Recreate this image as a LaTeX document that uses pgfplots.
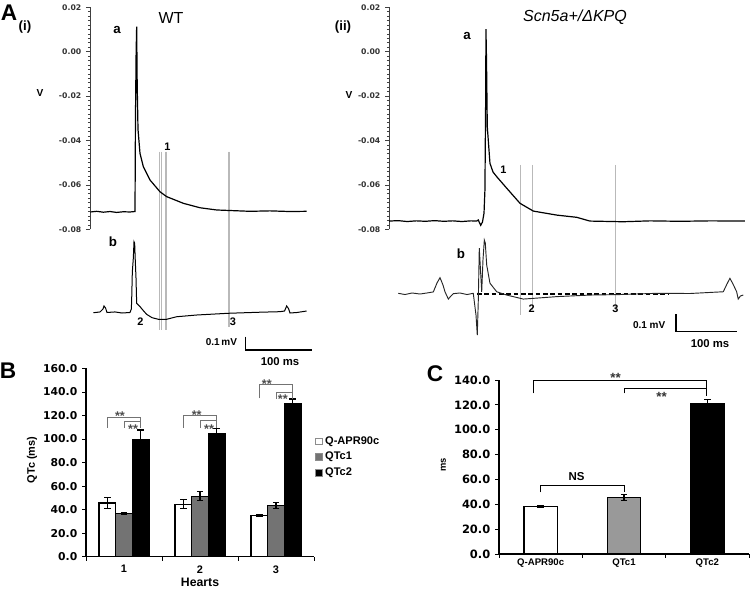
\documentclass[border=0pt]{standalone}
\usepackage{pgfplots}
\pgfplotsset{compat=1.18}
\usepackage{fontspec}
\setmainfont{Liberation Sans}
\newfontfamily\dv{DejaVu Sans}
\newcommand{\fs}[1]{\fontsize{#1}{#1}\selectfont}
\begin{document}
\begin{tikzpicture}[x=0.75pt,y=0.75pt]
\useasboundingbox (0,0) rectangle (750,592);
\pgfplotsset{
  trace top/.style={scale only axis, height=166.5pt, ymin=-0.08, ymax=0.02,
    axis x line=none, axis y line*=left, clip=false, scaled y ticks=false,
    ytick={-0.08,-0.06,-0.04,-0.02,0,0.02}, minor y tick num=9,
    tick align=outside, major tick length=3pt, minor tick length=1.6pt,
    every tick/.append style={black!75, line width=0.5pt},
    axis line style={black!75, line width=0.6pt},
    yticklabel style={font=\dv\bfseries\fs{5.8}, text=black!80,
      /pgf/number format/fixed, /pgf/number format/fixed zerofill,
      /pgf/number format/precision=2, /pgf/number format/assume math mode=true},
  },
  trace bot/.style={scale only axis, hide axis, clip=false},
  barax/.style={scale only axis, axis x line*=bottom, axis y line*=left,
    xmin=0.5, xmax=3.5, ymin=0, clip=false, scaled y ticks=false,
    tick align=outside, major tick length=3pt,
    every tick/.append style={black, line width=0.6pt},
    axis line style={black, line width=0.8pt},
    xtick={0.5,1.5,2.5,3.5}, xticklabels={,,,},
    extra x ticks={1,2,3}, extra x tick style={major tick length=0pt},
    yticklabel style={/pgf/number format/fixed, /pgf/number format/fixed zerofill,
      /pgf/number format/precision=1, /pgf/number format/assume math mode=true},
    ybar=0pt,
    error bars/error bar style={black, line width=0.8pt},
    error bars/error mark options={rotate=90, black, line width=0.8pt, mark size=2.4pt},
  },
}

% ---------------- Panel A(i) ----------------
\begin{axis}[trace top, at={(90*0.75pt,362.7*0.75pt)}, anchor=south west, width=172.5pt, xmin=0, xmax=345]
\addplot[gray!55, line width=0.5pt] coordinates {(104,-0.045) (104,-0.1255)};
\addplot[gray!55, line width=0.5pt] coordinates {(106.5,-0.045) (106.5,-0.1255)};
\addplot[gray!55, line width=0.5pt] coordinates {(113.5,-0.045) (113.5,-0.1255)};
\addplot[gray!55, line width=0.5pt] coordinates {(115,-0.045) (115,-0.1255)};
\addplot[gray!55, line width=0.5pt] coordinates {(207.5,-0.045) (207.5,-0.124)};
\addplot[gray!55, line width=0.5pt] coordinates {(209,-0.045) (209,-0.124)};
\addplot[black, line width=0.9pt] coordinates {
(0.5,-0.0722) (10,-0.0719) (20,-0.0723) (30,-0.0720) (40,-0.0724) (50,-0.0721)
(60,-0.0722) (67.5,-0.0720) (68.2,-0.030) (69.2,0.000) (70,0.0113) (70.8,-0.015)
(72,-0.035) (75,-0.0458) (80,-0.0518) (90,-0.0578) (105,-0.0631) (115,-0.0653)
(140,-0.0683) (165,-0.0703) (190,-0.0713) (215,-0.0716) (240,-0.0719) (270,-0.0717)
(300,-0.0720) (325,-0.0719)};
\end{axis}
\begin{axis}[trace bot, at={(90*0.75pt,239.6*0.75pt)}, anchor=south west, width=172.5pt, height=89.8pt,
  xmin=0, xmax=345, ymin=-0.3, ymax=0.6]
\addplot[black, line width=0.75pt] coordinates {
(5,-0.002) (15,0.004) (19.5,0.026) (21,0.049) (23.3,0.034) (25.5,0) (37.5,0.004)
(48,-0.004) (60,0) (62,0.026) (62.5,0.094) (63.5,0.305) (65,0.41) (66,0.532)
(67,0.52) (68,0.38) (69,0.26) (70,0.069) (75,0.044) (80,0.014) (85,-0.014)
(93,-0.039) (102.5,-0.051) (115,-0.051) (130,-0.032) (160,-0.019) (207.5,-0.006)
(255,0.002) (285,0.006) (291.8,0.011) (295,0.049) (297.8,0.029) (300,-0.004)
(310.5,0) (325,0.011)};
\addplot[black, line width=0.9pt] coordinates {(233.6,-0.182) (233.6,-0.282) (333.5,-0.282)};
\end{axis}

% ---------------- Panel A(ii) ----------------
\begin{axis}[trace top, at={(389*0.75pt,362.7*0.75pt)}, anchor=south west, width=270.75pt, xmin=0, xmax=594.6]
\addplot[gray!55, line width=0.6pt] coordinates {(216.9,-0.051) (216.9,-0.1187)};
\addplot[gray!55, line width=0.6pt] coordinates {(236.7,-0.051) (236.7,-0.1164)};
\addplot[gray!55, line width=0.6pt] coordinates {(372.2,-0.051) (372.2,-0.1164)};
\addplot[black, line width=0.9pt] coordinates {
(0,-0.0763) (15,-0.0761) (30,-0.0765) (45,-0.0762) (60,-0.0764) (75,-0.0761)
(90,-0.0764) (105,-0.0762) (120,-0.0765) (135,-0.0762) (144.4,-0.0763)
(147,-0.0758) (151,-0.0782) (154,-0.0767) (156.5,-0.0727) (158,-0.0623)
(159.2,-0.0217) (159.7,0.0102) (160.6,-0.0037) (161.9,-0.0338) (166.3,-0.0503)
(171.3,-0.0542) (177.4,-0.0563) (193.9,-0.0615) (215.8,-0.0683) (237.7,-0.0718)
(276.2,-0.0736) (309.1,-0.0746) (331,-0.0763) (385.4,-0.0766) (430,-0.0762)
(479.3,-0.0764) (530,-0.0762) (586.3,-0.0763)};
\end{axis}
\begin{axis}[trace bot, at={(389*0.75pt,246.3*0.75pt)}, anchor=south west, width=270.75pt, height=91.35pt,
  xmin=0, xmax=594.6, ymin=-0.3, ymax=0.4]
\addplot[black, line width=1pt, dash pattern=on 3.5pt off 2pt] coordinates {(144.8,-0.003) (459.4,-0.003)};
\addplot[black!85, line width=0.7pt] coordinates {
(15.3,0.001) (26.4,-0.006) (37.9,0.003) (51.1,-0.003) (62.6,0.003) (73,0.009)
(79,0.060) (84,0.091) (88.9,0.049) (92.2,0.010) (97.7,-0.032) (102.1,-0.014)
(105.9,-0.001) (116.9,0.003) (128.5,-0.006) (138.8,0.001) (143.3,-0.124)
(145.4,-0.239) (147.1,-0.037) (148.7,0.260) (150.7,0.135) (152.7,0.010)
(154.8,0.193) (157,0.307) (158.6,0.290) (160.9,0.164) (166.3,0.059) (177.4,0.010)
(193.9,-0.009) (221.2,-0.032) (237.7,-0.028) (276.2,-0.018) (331,-0.009)
(380.5,-0.006) (440.9,0.001) (495.7,0) (550.6,0.010) (556.7,0.055) (561.5,0.087)
(566.5,0.055) (572.6,0.010) (575.2,-0.032) (578.9,-0.014) (583.5,-0.009)};
\addplot[black, line width=0.9pt] coordinates {(472.7,-0.12) (472.7,-0.22) (572.7,-0.22)};
\end{axis}

% ---------------- Panel B ----------------
\begin{axis}[barax, at={(86*0.75pt,35.3*0.75pt)}, anchor=south west, width=171pt, height=141.2pt,
  ymax=160, ytick={0,20,...,160}, bar width=12.5pt,
  yticklabel style={font=\dv\bfseries\fs{8.1}},
  extra x tick labels={1,2,3},
  extra x tick style={major tick length=0pt, tick label style={font=\bfseries\fs{8.2}, yshift=-3pt}},
  legend style={at={(rel axis cs:1.005,0.655)}, anchor=north west, draw=none, fill=none,
    font=\bfseries\fs{8.3}, inner sep=0pt, row sep=0.5pt,
    /tikz/every even column/.append style={column sep=1pt}},
  legend cell align=left,
  legend image code/.code={\draw[#1,/tikz/.cd,draw=black!45,line width=0.3pt] (0pt,-2.5pt) rectangle (5pt,2.5pt);},
]
\addplot[fill=white, draw=black, line width=0.9pt, error bars/.cd, y dir=both, y explicit]
  coordinates {(1,45.7) +- (0,5.0) (2,44.6) +- (0,4.0) (3,35.2) +- (0,0.8)};
\addplot[fill=black!55, draw=black, line width=0.9pt, error bars/.cd, y dir=both, y explicit]
  coordinates {(1,36.8) +- (0,0.8) (2,51.4) +- (0,3.8) (3,43.3) +- (0,2.4)};
\addplot[fill=black, draw=black, line width=0.9pt, error bars/.cd, y dir=both, y explicit]
  coordinates {(1,99.7) +- (0,8.0) (2,105.0) +- (0,4.0) (3,130.0) +- (0,4.0)};
\legend{Q-APR90c, QTc1, QTc2}
% significance brackets
\draw[black!55, line width=0.6pt] (axis cs:0.78,109.6) |- (axis cs:1.22,118.4) -- (axis cs:1.22,115.3);
\draw[black!55, line width=0.6pt] (axis cs:1,109.6) |- (axis cs:1.22,115.3) -- (axis cs:1.22,109.6);
\draw[black!55, line width=0.6pt] (axis cs:1.78,109.6) |- (axis cs:2.22,119.8) -- (axis cs:2.22,115.5);
\draw[black!55, line width=0.6pt] (axis cs:2,109.6) |- (axis cs:2.22,115.5) -- (axis cs:2.22,109.6);
\draw[black!55, line width=0.6pt] (axis cs:2.78,134.6) |- (axis cs:3.22,146.5) -- (axis cs:3.22,139.7);
\draw[black!55, line width=0.6pt] (axis cs:3,134) |- (axis cs:3.22,139.7) -- (axis cs:3.22,134);
\node[font=\bfseries\fs{9.5}, text=black!70, yshift=-2.5pt] at (axis cs:0.947,122.7) {**};
\node[font=\bfseries\fs{9.5}, text=black!70, yshift=-2.5pt] at (axis cs:1.12,111) {**};
\node[font=\bfseries\fs{9.5}, text=black!70, yshift=-2.5pt] at (axis cs:1.957,123.2) {**};
\node[font=\bfseries\fs{9.5}, text=black!70, yshift=-2.5pt] at (axis cs:2.12,111) {**};
\node[font=\bfseries\fs{9.5}, text=black!70, yshift=-2.5pt] at (axis cs:2.88,149.5) {**};
\node[font=\bfseries\fs{9.5}, text=black!70, yshift=-2.5pt] at (axis cs:3.09,136.5) {**};
\end{axis}

% ---------------- Panel C ----------------
\begin{axis}[barax, at={(499*0.75pt,38*0.75pt)}, anchor=south west, width=187.5pt, height=130.5pt,
  ymax=140, ytick={0,20,...,140}, bar width=25pt,
  yticklabel style={font=\dv\bfseries\fs{8.6}},
  extra x tick labels={Q-APR90c,QTc1,QTc2},
  extra x tick style={major tick length=0pt, tick label style={font=\bfseries\fs{7.2}}},
]
\addplot[bar shift=0pt, fill=white, draw=black, line width=0.9pt, error bars/.cd, y dir=both, y explicit]
  coordinates {(1,38.3) +- (0,1.0)};
\addplot[bar shift=0pt, fill=black!40, draw=black, line width=0.9pt, error bars/.cd, y dir=both, y explicit]
  coordinates {(2,45.3) +- (0,2.3)};
\addplot[bar shift=0pt, fill=black, draw=black, line width=0.9pt, error bars/.cd, y dir=both, y explicit]
  coordinates {(3,121.2) +- (0,3.0)};
\draw[black, line width=0.6pt] (axis cs:0.91,129.3) |- (axis cs:2.99,140) -- (axis cs:2.99,127);
\draw[black, line width=0.6pt] (axis cs:2,129.3) |- (axis cs:2.99,133.3);
\draw[black, line width=0.6pt] (axis cs:1,49.6) |- (axis cs:2,55.5) -- (axis cs:2,49.6);
\node[font=\bfseries\fs{10}, text=black!80, yshift=-2.5pt] at (axis cs:1.90,144) {**};
\node[font=\bfseries\fs{10}, text=black!80, yshift=-2.5pt] at (axis cs:2.45,129.3) {**};
\node[font=\bfseries\fs{8.6}] at (axis cs:1.43,62.2) {NS};
\end{axis}

% ---------------- Text labels ----------------
\node[font=\bfseries\fs{17}] at (9,579) {A};
\node[font=\bfseries\fs{17}] at (8,221) {B};
\node[font=\bfseries\fs{17}] at (435,218) {C};
\node[font=\bfseries\fs{10}] at (25,565) {(i)};
\node[font=\bfseries\fs{10}] at (343,565) {(ii)};
\node[font=\bfseries\fs{7.6}] at (40,499) {V};
\node[font=\bfseries\fs{7.6}] at (349,497) {V};
\node[font=\fs{12}] at (171,574) {WT};
\node[font=\itshape\fs{12}] at (575,575) {Scn5a+/ΔKPQ};
\node[font=\bfseries\fs{10}] at (117,562) {a};
\node[font=\bfseries\fs{10}] at (113,350) {b};
\node[font=\bfseries\fs{10}] at (467,556) {a};
\node[font=\bfseries\fs{10}] at (461,338) {b};
\node[font=\bfseries\fs{8.2}] at (167.5,445.3) {1};
\node[font=\bfseries\fs{8.2}] at (140.5,270.3) {2};
\node[font=\bfseries\fs{8.2}] at (233,270.3) {3};
\node[font=\bfseries\fs{8.2}] at (503.3,422.7) {1};
\node[font=\bfseries\fs{8.2}] at (531.7,283.7) {2};
\node[font=\bfseries\fs{8.2}] at (615.5,283) {3};
\node[font=\bfseries\fs{7.5}, anchor=east] at (241.7,250.3) {0.1\,mV};
\node[font=\bfseries\fs{8.5}] at (280,230.3) {100 ms};
\node[font=\bfseries\fs{7.5}, anchor=east] at (670,267) {0.1 mV};
\node[font=\bfseries\fs{8.5}] at (710,248.7) {100 ms};
\node[font=\bfseries\fs{8.2}, rotate=90] at (32,132) {QTc (ms)};
\node[font=\bfseries\fs{7}, rotate=90] at (443.3,127) {ms};
\node[font=\bfseries\fs{9.2}] at (200,10) {Hearts};
\end{tikzpicture}
\end{document}
